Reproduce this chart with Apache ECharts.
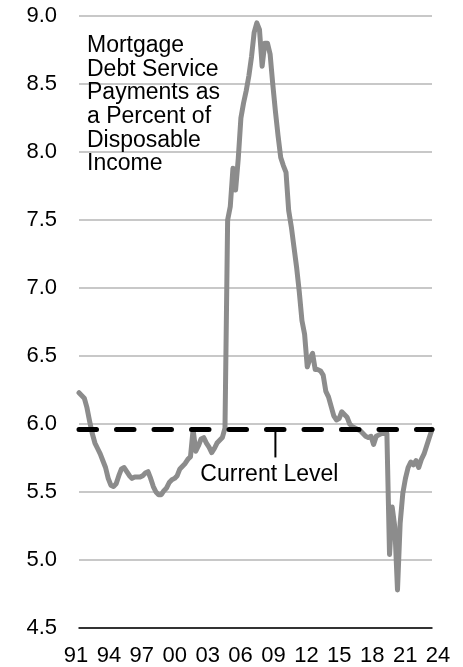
<!DOCTYPE html>
<html><head><meta charset="utf-8">
<script src="https://cdn.jsdelivr.net/npm/echarts@6/dist/echarts.min.js"></script>
<style>html,body{margin:0;padding:0;background:#fff}#c{width:463px;height:667px}</style>
</head><body><div id="c"></div>
<script>
// Quarterly categories 1991Q1 .. 2024Q2
const categories = [];
for (let y = 1991; y <= 2024; y++) {
  for (let q = 1; q <= 4; q++) {
    if (y === 2024 && q > 2) break;
    categories.push(y + 'Q' + q);
  }
}
// Mortgage debt service payments as % of disposable income
const mdsp = [
  6.23, 6.21, 6.19, 6.12, 6.02, 5.93, 5.86, 5.82, 5.78, 5.73,
  5.68, 5.60, 5.55, 5.54, 5.56, 5.62, 5.67, 5.68, 5.65, 5.62,
  5.60, 5.61, 5.61, 5.61, 5.62, 5.64, 5.65, 5.60, 5.54, 5.50,
  5.48, 5.48, 5.51, 5.53, 5.57, 5.59, 5.60, 5.62, 5.67, 5.69,
  5.71, 5.74, 5.76, 5.96, 5.80, 5.84, 5.89, 5.90, 5.86, 5.83,
  5.79, 5.82, 5.86, 5.88, 5.90, 5.97, 7.50, 7.60, 7.88, 7.72,
  7.95, 8.25, 8.36, 8.45, 8.56, 8.70, 8.88, 8.95, 8.90, 8.63,
  8.80, 8.80, 8.72, 8.50, 8.30, 8.12, 7.96, 7.90, 7.85, 7.57,
  7.45, 7.30, 7.15, 6.97, 6.76, 6.66, 6.42, 6.48, 6.52, 6.40,
  6.40, 6.39, 6.36, 6.24, 6.20, 6.13, 6.06, 6.03, 6.04, 6.09,
  6.07, 6.05, 6.00, 5.98, 5.97, 5.96, 5.95, 5.93, 5.91, 5.90,
  5.91, 5.85, 5.91, 5.92, 5.93, 5.93, 5.93, 5.04, 5.39, 5.24,
  4.78, 5.27, 5.49, 5.60, 5.68, 5.72, 5.70, 5.73, 5.68, 5.74,
  5.78, 5.84, 5.90, 5.96
];
const currentLevel = 5.96;
const currentLevelAnchor = '2009Q3';
const yearTickLabels = ['91','94','97','00','03','06','09','12','15','18','21','24'];
const yMin = 4.5, yMax = 9.0, yStep = 0.5;
const annotationText = 'Mortgage\nDebt Service\nPayments as\na Percent of\nDisposable\nIncome';
const currentLabel = 'Current Level';

const FONT = 'Liberation Sans, Arial, sans-serif';
const chart = echarts.init(document.getElementById('c'), null, {renderer: 'canvas'});
chart.setOption({
  animation: false,
  backgroundColor: '#fff',
  grid: [
    {left: 79, right: 31, top: 16, bottom: 39},
    {left: 59.5, right: 8.5, top: 16, bottom: 39}
  ],
  xAxis: [
    {type: 'category', gridIndex: 0, data: categories, boundaryGap: false,
     axisLine: {show: true, lineStyle: {color: '#000', width: 1.5}},
     axisTick: {show: false}, axisLabel: {show: false}, splitLine: {show: false}},
    {type: 'category', gridIndex: 1, data: yearTickLabels, boundaryGap: true,
     axisLine: {show: false}, axisTick: {show: false}, splitLine: {show: false},
     axisLabel: {interval: 0, color: '#000', fontSize: 22, fontFamily: FONT, margin: 19}}
  ],
  yAxis: [
    {type: 'value', gridIndex: 0, min: yMin, max: yMax, interval: yStep,
     axisLine: {show: false}, axisTick: {show: false},
     axisLabel: {color: '#000', fontSize: 22, fontFamily: FONT, margin: 22,
                 formatter: v => v.toFixed(1)},
     splitLine: {lineStyle: {color: '#c8c8c8', width: 2}}},
    {type: 'value', gridIndex: 1, show: false, min: 0, max: 1, splitLine: {show: false}}
  ],
  series: [
    {type: 'line', xAxisIndex: 0, yAxisIndex: 0, data: mdsp, showSymbol: false,
     lineStyle: {color: '#8c8c8c', width: 5, join: 'round', cap: 'round'}, z: 2},
    {type: 'line', xAxisIndex: 0, yAxisIndex: 0, data: categories.map(() => currentLevel),
     showSymbol: false, silent: true,
     lineStyle: {color: '#000', width: 5, type: [17.5, 20], cap: 'round'}, z: 3}
  ]
});
const p = chart.convertToPixel({xAxisIndex: 0, yAxisIndex: 0}, [currentLevelAnchor, currentLevel]);
chart.setOption({
  graphic: [
    {type: 'text', left: 87, top: 34, z: 10,
     style: {text: annotationText, font: '23px ' + FONT, fill: '#000', lineHeight: 23.6}},
    {type: 'line', z: 10, shape: {x1: p[0], y1: p[1], x2: p[0], y2: p[1] + 28},
     style: {stroke: '#000', lineWidth: 2}},
    {type: 'text', z: 10, x: p[0] - 6, y: p[1] + 45,
     style: {text: currentLabel, font: '23px ' + FONT, fill: '#000', textAlign: 'center', textVerticalAlign: 'middle'}}
  ]
});
</script>
</body></html>
